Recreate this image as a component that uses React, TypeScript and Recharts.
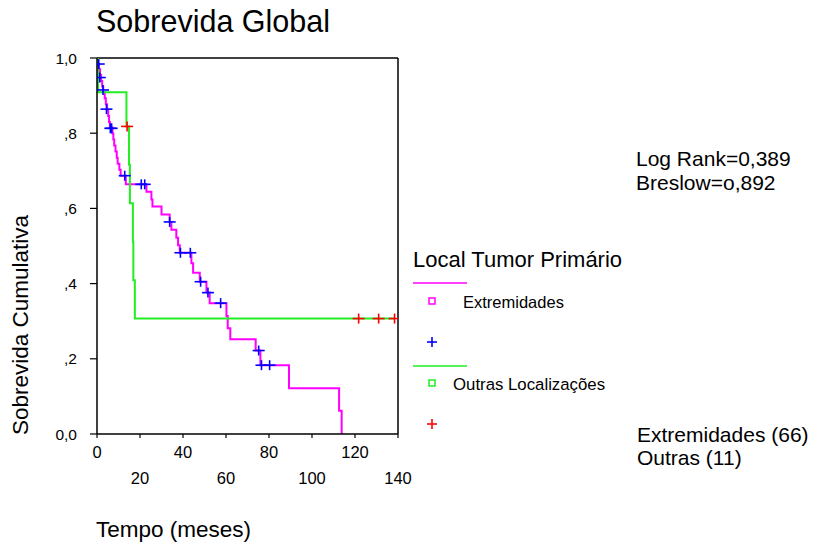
import React from "react";
import {
  ComposedChart,
  Line,
  Scatter,
  XAxis,
  YAxis,
  ReferenceLine,
  Customized,
} from "recharts";

const FONT = "Arial, 'Liberation Sans', sans-serif";

const xTicks = [0, 20, 40, 60, 80, 100, 120, 140];
const yTicks = [0, 0.2, 0.4, 0.6, 0.8, 1.0];
const yTickLabels = ["0,0", ",2", ",4", ",6", ",8", "1,0"];

// Extremidades (n=66) - Kaplan-Meier steps
const extremTimes = [
  0, 0.4, 0.9, 1.4, 1.9, 2.4, 2.9, 3.6, 4.1, 4.7, 5.2, 5.6, 6.0, 7.2, 7.6, 8.0,
  8.6, 9.2, 9.6, 10.4, 11.0, 13.4, 23.0, 25.3, 25.8, 30.0, 33.8, 34.6, 36.9,
  37.7, 38.5, 43.9, 44.7, 47.8, 50.9, 52.4, 60.2, 60.8, 62.0, 73.8, 76.0, 89.3,
  112.6, 113.8,
];
const extremSurv = [
  1.0, 0.985, 0.97, 0.955, 0.939, 0.924, 0.909, 0.893, 0.877, 0.862, 0.846,
  0.83, 0.815, 0.799, 0.783, 0.767, 0.751, 0.735, 0.719, 0.703, 0.687, 0.664,
  0.644, 0.624, 0.605, 0.584, 0.564, 0.543, 0.522, 0.502, 0.482, 0.454, 0.429,
  0.405, 0.376, 0.348, 0.314, 0.281, 0.252, 0.222, 0.183, 0.122, 0.062, 0,
];
const extremCensTimes = [
  0.8, 1.3, 2.8, 4.4, 6.2, 6.8, 12.9, 20.6, 22.2, 33.8, 38.8, 43.4, 48.2, 51.6,
  57.5, 75.2, 76.5, 80.3,
];
const extremCensSurv = [
  0.984, 0.948, 0.915, 0.864, 0.813, 0.813, 0.687, 0.664, 0.664, 0.564, 0.482,
  0.482, 0.405, 0.376, 0.348, 0.222, 0.183, 0.183,
];

// Outras Localizações (n=11)
const outrasTimes = [0, 0.5, 13.7, 14.9, 15.3, 16.7, 16.9, 17.6, 138.5];
const outrasSurv = [1.0, 0.909, 0.818, 0.716, 0.614, 0.511, 0.409, 0.307, 0.307];
const outrasCensTimes = [14.0, 121.7, 131.0, 138.4];
const outrasCensSurv = [0.818, 0.307, 0.307, 0.307];

const extremData = extremTimes.map((t, i) => ({ t, s: extremSurv[i] }));
const extremCens = extremCensTimes.map((t, i) => ({ t, s: extremCensSurv[i] }));
const outrasData = outrasTimes.map((t, i) => ({ t, s: outrasSurv[i] }));
const outrasCens = outrasCensTimes.map((t, i) => ({ t, s: outrasCensSurv[i] }));

const Cross = ({ cx, cy, stroke, w = 6, h = 5 }: any) => (
  <g stroke={stroke} strokeWidth={1.6}>
    <line x1={cx - w} x2={cx + w} y1={cy} y2={cy} />
    <line x1={cx} x2={cx} y1={cy - h} y2={cy + h} />
  </g>
);

const XTick = ({ x, y, payload }: any) => {
  const lower = (payload.value / 20) % 2 === 1;
  return (
    <text
      x={x}
      y={y}
      dy={lower ? 43.5 : 17.5}
      textAnchor="middle"
      fontFamily={FONT}
      fontSize={16.5}
      fill="#000"
    >
      {payload.value}
    </text>
  );
};

const Annotations = () => (
  <g fontFamily={FONT} fill="#000">
    <text x={96} y={32} fontSize={30.5}>
      Sobrevida Global
    </text>
    <text
      x={20}
      y={325}
      fontSize={22.5}
      textAnchor="middle"
      dominantBaseline="central"
      transform="rotate(-90 20 325)"
    >
      Sobrevida Cumulativa
    </text>
    <text x={96} y={537} fontSize={22.5}>
      Tempo (meses)
    </text>
    <text x={636} y={166} fontSize={21}>
      Log Rank=0,389
    </text>
    <text x={636} y={190} fontSize={21}>
      Breslow=o,892
    </text>
    <text x={637} y={442} fontSize={21}>
      Extremidades (66)
    </text>
    <text x={637} y={465} fontSize={21}>
      Outras (11)
    </text>

    <text x={413} y={267} fontSize={22}>
      Local Tumor Primário
    </text>
    <line x1={413} x2={467} y1={283} y2={283} stroke="#ff00ff" strokeWidth={1.5} />
    <rect x={429} y={298} width={6} height={6} fill="none" stroke="#ff00ff" strokeWidth={1.5} />
    <text x={463} y={308} fontSize={16.5}>
      Extremidades
    </text>
    <Cross cx={432} cy={342} stroke="#0000ff" w={5} h={5} />
    <line x1={413} x2={467} y1={366} y2={366} stroke="#22ee22" strokeWidth={1.5} />
    <rect x={429} y={380} width={6} height={6} fill="none" stroke="#22ee22" strokeWidth={1.5} />
    <text x={453} y={390} fontSize={16.8}>
      Outras Localizações
    </text>
    <Cross cx={432} cy={424} stroke="#ff0000" w={5} h={5} />
  </g>
);

export default function App() {
  return (
    <div style={{ position: "absolute", left: 0, top: 0, width: 814, height: 547, background: "#fff" }}>
      <ComposedChart
        width={814}
        height={547}
        margin={{ top: 58, right: 416, bottom: 53, left: 37 }}
      >
        <XAxis
          type="number"
          dataKey="t"
          domain={[0, 140]}
          ticks={xTicks}
          interval={0}
          height={60}
          tickSize={4}
          tickMargin={2}
          tick={<XTick />}
          axisLine={{ stroke: "#000", strokeWidth: 1.5 }}
          tickLine={{ stroke: "#000", strokeWidth: 1.2 }}
          allowDataOverflow
        />
        <YAxis
          type="number"
          dataKey="s"
          domain={[0, 1]}
          ticks={yTicks}
          interval={0}
          width={60}
          tickSize={7}
          tickMargin={13}
          tickFormatter={(v: number) => yTickLabels[Math.round(v * 5)]}
          tick={{ fontFamily: FONT, fontSize: 15.5, fill: "#000" }}
          axisLine={{ stroke: "#000", strokeWidth: 1.5 }}
          tickLine={{ stroke: "#000", strokeWidth: 1.2 }}
          allowDataOverflow
        />
        <ReferenceLine y={1} stroke="#000" strokeWidth={1.5} />
        <ReferenceLine x={140} stroke="#000" strokeWidth={1.5} />
        <Line
          data={extremData}
          dataKey="s"
          type="stepAfter"
          stroke="#ff00ff"
          strokeWidth={2}
          dot={false}
          activeDot={false}
          isAnimationActive={false}
        />
        <Line
          data={outrasData}
          dataKey="s"
          type="stepAfter"
          stroke="#22ee22"
          strokeWidth={2}
          dot={false}
          activeDot={false}
          isAnimationActive={false}
        />
        <Scatter
          data={extremCens}
          dataKey="s"
          shape={(p: any) => <Cross cx={p.cx} cy={p.cy} stroke="#0000ff" />}
          isAnimationActive={false}
        />
        <Scatter
          data={outrasCens}
          dataKey="s"
          shape={(p: any) => <Cross cx={p.cx} cy={p.cy} stroke="#ff0000" />}
          isAnimationActive={false}
        />
        <Customized component={Annotations} />
      </ComposedChart>
    </div>
  );
}
